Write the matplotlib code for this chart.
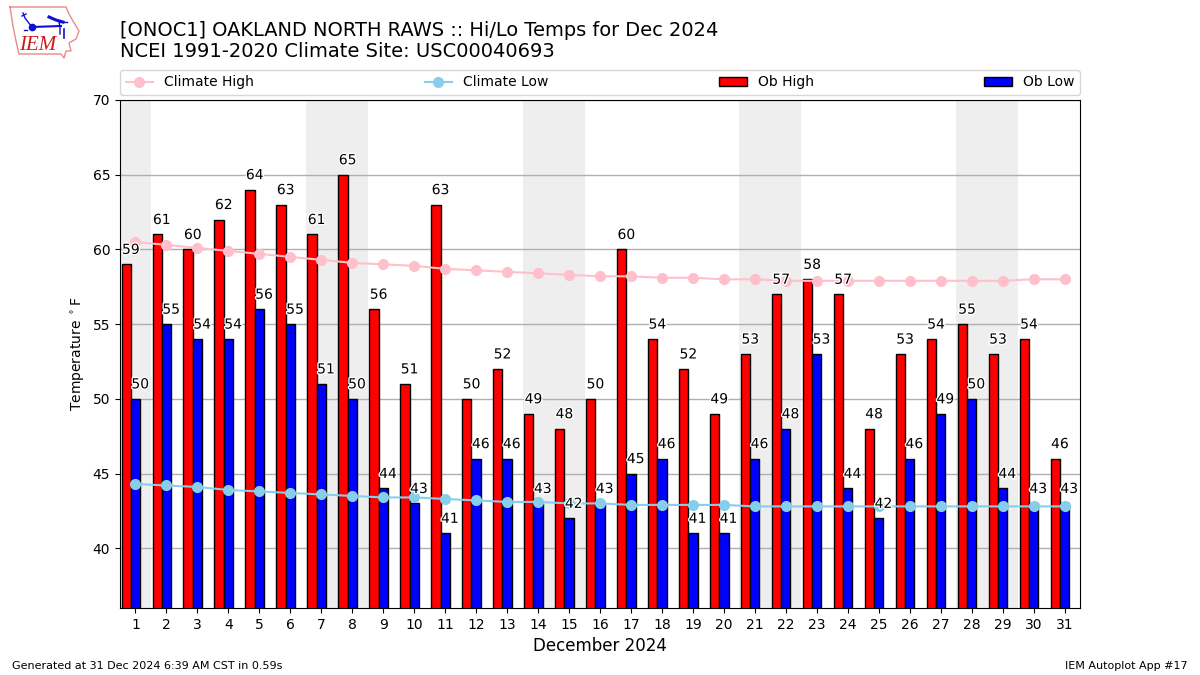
#!/bin/python

import numpy as np
import matplotlib
matplotlib.use('Agg')
import matplotlib.pyplot as plt
import matplotlib.patheffects as pe

days = np.arange(1, 32)
ob_high = [59, 61, 60, 62, 64, 63, 61, 65, 56, 51, 63, 50, 52, 49, 48, 50,
           60, 54, 52, 49, 53, 57, 58, 57, 48, 53, 54, 55, 53, 54, 46]
ob_low = [50, 55, 54, 54, 56, 55, 51, 50, 44, 43, 41, 46, 46, 43, 42, 43,
          45, 46, 41, 41, 46, 48, 53, 44, 42, 46, 49, 50, 44, 43, 43]
climate_high = [60.5, 60.3, 60.1, 59.9, 59.7, 59.5, 59.3, 59.1, 59.0, 58.9, 58.7,
                58.6, 58.5, 58.4, 58.3, 58.2, 58.2, 58.1, 58.1, 58.0, 58.0, 57.9,
                57.9, 57.9, 57.9, 57.9, 57.9, 57.9, 57.9, 58.0, 58.0]
climate_low = [44.3, 44.2, 44.1, 43.9, 43.8, 43.7, 43.6, 43.5, 43.4, 43.4, 43.3,
               43.2, 43.1, 43.1, 43.0, 43.0, 42.9, 42.9, 42.9, 42.9, 42.8, 42.8,
               42.8, 42.8, 42.8, 42.8, 42.8, 42.8, 42.8, 42.8, 42.8]
# weekends, first and last day of each band
weekends = [(1, 1), (7, 8), (14, 15), (21, 22), (28, 29)]

W, H = 1200, 675
fig = plt.figure(figsize=(12, 6.75), dpi=100)
ax = fig.add_axes([120 / W, 1 - 608 / H, 960 / W, 508 / H])

for first, last in weekends:
    ax.axvspan(first - 0.5, last + 0.5, color='#eeeeee', lw=0, zorder=0)

ax.bar(days - 0.3, ob_high, width=0.3, color='red', edgecolor='k', label='Ob High', zorder=2)
ax.bar(days, ob_low, width=0.3, color='blue', edgecolor='k', label='Ob Low', zorder=2)
ax.plot(days, climate_high, color='pink', marker='o', lw=1.5, ms=7, label='Climate High', zorder=3)
ax.plot(days, climate_low, color='skyblue', marker='o', lw=1.5, ms=7, label='Climate Low', zorder=3)

# the value labels sit a bit right of their bars
halo = [pe.withStroke(linewidth=2, foreground='white')]
for d, hi, lo in zip(days, ob_high, ob_low):
    ax.text(d - 0.15, hi + 0.5, str(hi), ha='center', va='bottom', fontsize=10,
            path_effects=halo, zorder=4)
    ax.text(d + 0.15, lo + 0.5, str(lo), ha='center', va='bottom', fontsize=10,
            path_effects=halo, zorder=4)

ax.set_xlim(0.5, 31.5)
ax.set_ylim(36, 70)
ax.set_xticks(days)
ax.set_yticks(range(40, 71, 5))
ax.grid(True, axis='y', color='#b0b0b0', lw=1, zorder=1)
ax.set_axisbelow(True)
ax.set_ylabel(r'Temperature $^\circ$F')
ax.set_xlabel('December 2024', fontsize=12)

handles, labels = ax.get_legend_handles_labels()
order = [labels.index(n) for n in ['Climate High', 'Climate Low', 'Ob High', 'Ob Low']]
ax.legend([handles[i] for i in order], [labels[i] for i in order], ncol=4, mode='expand',
          loc='lower left', bbox_to_anchor=(0, 1.01, 1, 0.1), borderaxespad=0, fontsize=10)

fig.text(120 / W, 1 - 30 / H, '[ONOC1] OAKLAND NORTH RAWS :: Hi/Lo Temps for Dec 2024',
         fontsize=13.95, va='center')
fig.text(120 / W, 1 - 51.5 / H, 'NCEI 1991-2020 Climate Site: USC00040693',
         fontsize=14, va='center')
fig.text(12 / W, 1 - 666 / H, 'Generated at 31 Dec 2024 6:39 AM CST in 0.59s', fontsize=8, va='center')
fig.text(1188 / W, 1 - 666 / H, 'IEM Autoplot App #17', fontsize=8, va='center', ha='right')

# logo, in pixel coordinates of the picture
logo = fig.add_axes([1 / W, 1 - 66 / H, 90 / W, 65 / H])
logo.set_xlim(0, 90)
logo.set_ylim(65, 0)
logo.axis('off')
iowa_x = [9, 65, 68, 72, 78, 75, 68, 70, 65, 63, 60, 18, 15, 12, 9]
iowa_y = [6, 6, 13, 20, 30, 38, 42, 50, 50, 57, 53, 53, 40, 25, 6]
logo.plot(iowa_x, iowa_y, color='#e88a8a', lw=1)
logo.plot([31, 60], [26, 25], color='#1010d0', lw=1.5)
logo.plot([22, 24, 27, 31], [12, 17, 21, 26], color='#1010d0', lw=1)
logo.plot([21, 25], [15, 13], color='#1010d0', lw=1)
logo.plot([31], [26], 'o', color='#1010d0', ms=4.5)
logo.plot([48, 55, 62], [16, 19, 21], color='#1010d0', lw=2.2)
logo.plot([58, 66], [21, 21], color='#1010d0', lw=1)
logo.plot([58, 59, 59], [21, 26, 33], color='#1010d0', lw=1)
logo.plot([63, 63], [28, 37], color='#1010d0', lw=1.2)
logo.plot([23, 26], [29, 29], color='#1010d0', lw=1)
logo.text(37, 45, 'IEM', color='#d01818', family='Liberation Serif', style='italic',
          fontsize=15, ha='center', va='center')

fig.savefig('out.png', dpi=100)
